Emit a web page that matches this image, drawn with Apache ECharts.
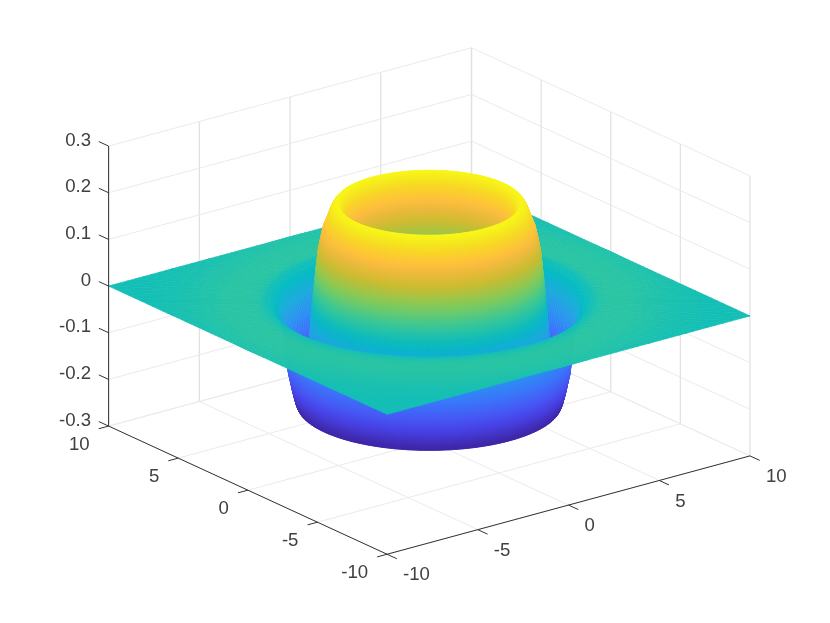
<!DOCTYPE html>
<html>
<head>
<meta charset="utf-8">
<script src="https://cdn.jsdelivr.net/npm/echarts@6/dist/echarts.min.js"></script>
<style>
html, body { margin: 0; padding: 0; background: #fff; }
#chart { width: 830px; height: 623px; }
</style>
</head>
<body>
<div id="chart"></div>
<script>
// tick values and labels
const xTicks = [-10, -5, 0, 5, 10];
const yTicks = [-10, -5, 0, 5, 10];
const zTicks = [-0.3, -0.2, -0.1, 0, 0.1, 0.2, 0.3];
const xTickLabels = ['-10', '-5', '0', '5', '10'];
const yTickLabels = ['-10', '-5', '0', '5', '10'];
const zTickLabels = ['-0.3', '-0.2', '-0.1', '0', '0.1', '0.2', '0.3'];

// radial profile of the bump and trough (silhouette and colours)
const radii = [0, 1, 2, 2.5, 2.9, 3.1, 3.3, 3.5, 3.7, 3.8, 3.9, 4, 4.1, 4.2, 4.3, 4.4, 4.5, 4.64, 4.75, 4.85, 4.93, 5, 5.05, 5.1, 5.17, 5.25, 5.32, 5.4, 5.5, 5.6, 5.7, 5.78, 5.85, 5.93, 6, 6.08, 6.17, 6.3, 6.5, 6.7, 6.9, 7.15];
const heights = [0.004, 0.012, 0.035, 0.05, 0.07, 0.085, 0.105, 0.135, 0.17, 0.19, 0.203, 0.21, 0.209, 0.204, 0.196, 0.184, 0.171, 0.155, 0.132, 0.109, 0.078, 0.045, 0.022, 0, -0.04, -0.084, -0.108, -0.13, -0.165, -0.195, -0.218, -0.22, -0.212, -0.198, -0.185, -0.167, -0.148, -0.08, -0.04, -0.016, -0.004, 0.003];
// flat sheet outside the trough: lies at z = 0, colour values read from its tint
const sheetRadii = [7.4, 7.7, 8, 9, 10, 11, 12, 14.2];
const sheetShades = [0.014, 0.018, 0.02, 0.018, 0.012, 0.007, 0.004, 0.002];
const colorLimit = 0.215;

// parula stops [t, r, g, b]
const parula = [
    [0, 0.2422, 0.1504, 0.6603], [0.095, 0.2783, 0.2559, 0.8991], [0.19, 0.2699, 0.3892, 0.9906],
    [0.286, 0.1786, 0.5289, 0.9682], [0.381, 0.1248, 0.6459, 0.8883], [0.476, 0.0067, 0.7312, 0.766],
    [0.571, 0.2161, 0.7843, 0.5923], [0.667, 0.5044, 0.7993, 0.348], [0.762, 0.8, 0.735, 0.18],
    [0.825, 0.94, 0.725, 0.24], [0.857, 0.99, 0.745, 0.24], [0.889, 0.995, 0.79, 0.2],
    [0.921, 0.97, 0.84, 0.14], [0.952, 0.96, 0.9, 0.12], [1, 0.977, 0.984, 0.08]
];

function parulaColor(t) {
    t = Math.max(0, Math.min(1, t));
    let k = 0;
    while (k < parula.length - 2 && t > parula[k + 1][0]) k++;
    const a = parula[k], b = parula[k + 1];
    const f = (t - a[0]) / (b[0] - a[0]);
    const c = [1, 2, 3].map(n => Math.round(255 * (a[n] + (b[n] - a[n]) * f)));
    return 'rgb(' + c.join(',') + ')';
}

function zToT(z) {
    return 0.5 + z / (2 * colorLimit);
}

// view(-37.5, 30): the hidden value axes hold the projected coordinates
const az = -37.5 * Math.PI / 180;
const sinEl = 0.5;
const zToV = 28.88;

function project(x, y, z) {
    return [
        x * Math.cos(az) + y * Math.sin(az),
        sinEl * (-x * Math.sin(az) + y * Math.cos(az)) + z * zToV
    ];
}

function farness(x, y) {
    return -x * Math.sin(az) + y * Math.cos(az);
}

// surface cells, one per ring and sector, clipped to the square and sorted far to near
const ringRadii = radii.concat(sheetRadii);
const ringZ = heights.concat(sheetRadii.map(() => 0));
const ringShade = heights.concat(sheetShades);
const sectorCount = 240;
const cells = [];
for (let j = 0; j < sectorCount; j++) {
    const a0 = j / sectorCount * 2 * Math.PI;
    const a1 = (j + 1) / sectorCount * 2 * Math.PI;
    const lim0 = 10 / Math.max(Math.abs(Math.cos(a0)), Math.abs(Math.sin(a0)));
    const lim1 = 10 / Math.max(Math.abs(Math.cos(a1)), Math.abs(Math.sin(a1)));
    for (let i = 0; i < ringRadii.length - 1; i++) {
        const r00 = Math.min(ringRadii[i], lim0), r01 = Math.min(ringRadii[i + 1], lim0);
        const r10 = Math.min(ringRadii[i], lim1), r11 = Math.min(ringRadii[i + 1], lim1);
        if (r00 === r01 && r10 === r11) continue;
        const z0 = ringZ[i], z1 = ringZ[i + 1];
        const pts = [
            [r00 * Math.cos(a0), r00 * Math.sin(a0), z0],
            [r10 * Math.cos(a1), r10 * Math.sin(a1), z0],
            [r11 * Math.cos(a1), r11 * Math.sin(a1), z1],
            [r01 * Math.cos(a0), r01 * Math.sin(a0), z1]
        ];
        const mx = (pts[0][0] + pts[1][0] + pts[2][0] + pts[3][0]) / 4;
        const my = (pts[0][1] + pts[1][1] + pts[2][1] + pts[3][1]) / 4;
        cells.push({ pts: pts, s0: ringShade[i], s1: ringShade[i + 1], far: farness(mx, my) });
    }
}
cells.sort((a, b) => b.far - a.far);

// box lines, built from the tick arrays
const xMin = xTicks[0], xMax = xTicks[xTicks.length - 1];
const yMin = yTicks[0], yMax = yTicks[yTicks.length - 1];
const zMin = zTicks[0], zMax = zTicks[zTicks.length - 1];
const gridLines = [];
xTicks.forEach(x => {
    gridLines.push([x, yMin, zMin, x, yMax, zMin, 'f']);
    gridLines.push([x, yMax, zMin, x, yMax, zMax, 'v']);
});
yTicks.forEach(y => {
    gridLines.push([xMin, y, zMin, xMax, y, zMin, 'f']);
    gridLines.push([xMax, y, zMin, xMax, y, zMax, 'v']);
});
zTicks.forEach(z => {
    gridLines.push([xMin, yMax, z, xMax, yMax, z, 'f']);
    gridLines.push([xMax, yMin, z, xMax, yMax, z, 'f']);
});

const axisLines = [
    [xMin, yMin, zMin, xMax, yMin, zMin],
    [xMin, yMin, zMin, xMin, yMax, zMin],
    [xMin, yMax, zMin, xMin, yMax, zMax]
];
const tickLen = 0.7;
xTicks.forEach(x => axisLines.push([x, yMin, zMin, x, yMin - tickLen, zMin]));
yTicks.forEach(y => axisLines.push([xMin, y, zMin, xMin - tickLen * 0.78, y, zMin]));
zTicks.forEach(z => axisLines.push([xMin, yMax, z, xMin, yMax + tickLen, z]));

// tick labels: [x, y, z, text, dx, dy, align]
const tickTexts = [];
xTicks.forEach((x, i) => tickTexts.push([x, yMin, zMin, xTickLabels[i], 16, 21, 'left']));
yTicks.forEach((y, i) => tickTexts.push([xMin, y, zMin, yTickLabels[i], -19, 18.5, 'right']));
zTicks.forEach((z, i) => tickTexts.push([xMin, yMax, z, zTickLabels[i], -17.5, -5.5, 'right']));

function renderCell(params, api) {
    const c = cells[params.dataIndex];
    const p = c.pts.map(q => api.coord(project(q[0], q[1], q[2])));
    const x0 = (p[0][0] + p[1][0]) / 2, y0 = (p[0][1] + p[1][1]) / 2;
    const x1 = (p[2][0] + p[3][0]) / 2, y1 = (p[2][1] + p[3][1]) / 2;
    const t0 = zToT(c.s0), t1 = zToT(c.s1);
    const fill = new echarts.graphic.LinearGradient(x0, y0, x1, y1, [
        { offset: 0, color: parulaColor(t0) },
        { offset: 0.5, color: parulaColor((t0 + t1) / 2) },
        { offset: 1, color: parulaColor(t1) }
    ], true);
    return {
        type: 'polygon',
        silent: true,
        shape: { points: p },
        style: { fill: fill, stroke: fill, lineWidth: 0.7 }
    };
}

function renderSegment(list, styleOf) {
    return function (params, api) {
        const s = list[params.dataIndex];
        const a = api.coord(project(s[0], s[1], s[2]));
        const b = api.coord(project(s[3], s[4], s[5]));
        return {
            type: 'line',
            silent: true,
            shape: { x1: a[0], y1: a[1], x2: b[0], y2: b[1] },
            style: styleOf(s)
        };
    };
}

function renderLabel(params, api) {
    const t = tickTexts[params.dataIndex];
    const a = api.coord(project(t[0], t[1], t[2]));
    return {
        type: 'text',
        silent: true,
        style: {
            text: t[3],
            x: a[0] + t[4],
            y: a[1] + t[5],
            textAlign: t[6],
            textVerticalAlign: 'middle',
            fontSize: 18.6,
            fontFamily: '"Liberation Sans", Arial, sans-serif',
            fill: '#404040'
        }
    };
}

function seriesData(list) {
    return list.map((d, i) => [i, 0]);
}

const chart = echarts.init(document.getElementById('chart'), null, { renderer: 'canvas' });
chart.setOption({
    backgroundColor: '#fff',
    animation: false,
    grid: { left: 0, right: 0, top: 0, bottom: 0 },
    xAxis: { type: 'value', min: -18.77, max: 17.52, show: false },
    yAxis: { type: 'value', min: -19.93, max: 18.63, show: false },
    series: [
        {
            type: 'custom', z: 1, clip: false, progressive: 0,
            data: seriesData(gridLines),
            renderItem: renderSegment(gridLines, s => ({
                stroke: s[6] === 'v' ? '#e2e2e2' : '#ebebeb',
                lineWidth: s[6] === 'v' ? 1.3 : 1
            }))
        },
        {
            type: 'custom', z: 2, clip: false, progressive: 0,
            data: seriesData(cells),
            renderItem: renderCell
        },
        {
            type: 'custom', z: 3, clip: false, progressive: 0,
            data: seriesData(axisLines),
            renderItem: renderSegment(axisLines, () => ({ stroke: '#333333', lineWidth: 1 }))
        },
        {
            type: 'custom', z: 4, clip: false, progressive: 0,
            data: seriesData(tickTexts),
            renderItem: renderLabel
        }
    ]
});
</script>
</body>
</html>
